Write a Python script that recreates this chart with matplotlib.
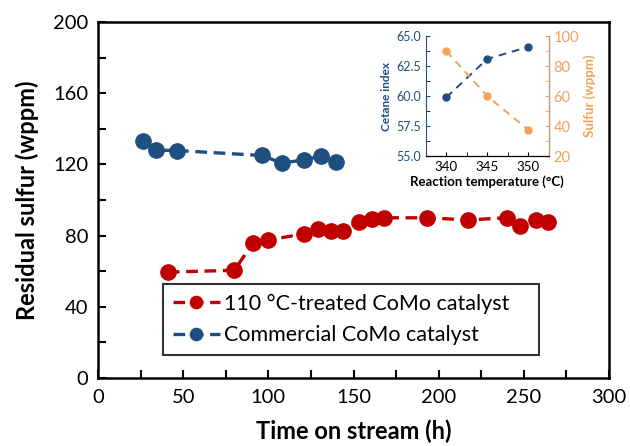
import matplotlib.pyplot as plt
from matplotlib.ticker import MultipleLocator

plt.rcParams['font.family'] = ['Lato', 'DejaVu Sans']

# time on stream (h) and residual sulfur (wppm)
t_treated = [41, 80, 91, 100, 121, 129, 137, 144, 153, 161, 168, 193, 217, 240, 248, 257, 264]
s_treated = [59.5, 60.5, 75.8, 77.5, 81, 83.7, 82.6, 82.6, 87.6, 89.3, 90, 90, 88.8, 90, 85.5, 88.8, 87.6]
t_comm = [26.5, 34, 46.5, 96, 108, 121, 131, 140]
s_comm = [133, 128, 127.8, 125, 120.8, 122.5, 124.7, 121.5]

# inset: reaction temperature effect
temp = [340, 345, 350]
cetane = [59.9, 63.1, 64.1]
sulfur_t = [90, 60, 37.5]

red = '#C00000'
blue = '#1F4E80'
orange = '#F5A15A'

fig = plt.figure(figsize=(6.3, 4.46), dpi=100)
ax = fig.add_axes([0.1556, 0.1525, 0.8111, 0.7982])

ax.plot(t_treated, s_treated, color=red, lw=2.4, ls=(0, (3.5, 2)), marker='o', ms=11,
        label='110 °C-treated CoMo catalyst')
ax.plot(t_comm, s_comm, color=blue, lw=2.4, ls=(0, (3.5, 2)), marker='o', ms=11,
        label='Commercial CoMo catalyst')

ax.set_xlim(0, 300)
ax.set_ylim(0, 200)
ax.xaxis.set_major_locator(MultipleLocator(50))
ax.xaxis.set_minor_locator(MultipleLocator(25))
ax.yaxis.set_major_locator(MultipleLocator(40))
ax.yaxis.set_minor_locator(MultipleLocator(20))
ax.tick_params(which='both', direction='in', width=1.5, length=6, labelsize=14.5)
ax.tick_params(axis='x', pad=8)
ax.tick_params(axis='y', pad=7)
for sp in ax.spines.values():
    sp.set_linewidth(1.8)
ax.set_xlabel('Time on stream (h)', fontsize=17, fontweight='bold', labelpad=10)
ax.set_ylabel('Residual sulfur (wppm)', fontsize=17, fontweight='bold', labelpad=10)

leg = ax.legend(loc='lower left', bbox_to_anchor=(0.106, 0.034, 0.779, 0.222), mode='expand',
                fontsize=15.5, frameon=True, fancybox=False, edgecolor='black',
                handlelength=2.2, handletextpad=0.2, borderpad=0.45, labelspacing=0.55,
                markerscale=0.8)
leg.get_frame().set_linewidth(1.5)

# inset
ins = fig.add_axes([0.676, 0.650, 0.195, 0.269])
ins.plot(temp, cetane, color=blue, lw=1.4, ls=(0, (4, 3)), marker='o', ms=5)
ins.set_xlim(337.5, 352.5)
ins.set_ylim(55, 65)
ins.set_xticks([340, 345, 350])
ins.xaxis.set_minor_locator(MultipleLocator(2.5))
ins.yaxis.set_major_locator(MultipleLocator(2.5))
ins.yaxis.set_minor_locator(MultipleLocator(1.25))
ins.yaxis.set_major_formatter('{x:.1f}')
ins.tick_params(which='both', direction='in', length=3, labelsize=9)
ins.tick_params(axis='x', labelsize=9.5)
ins.tick_params(axis='y', colors=blue)
ins.tick_params(axis='x', which='both', colors='black')
ins.spines['left'].set_color(blue)
ins.spines['top'].set_visible(False)
ins.set_xlabel('Reaction temperature (°C)', fontsize=9.5, fontweight='bold', labelpad=2)
ins.set_ylabel('Cetane index', fontsize=8.5, fontweight='bold', color=blue, labelpad=3)

ins2 = ins.twinx()
ins2.plot(temp, sulfur_t, color=orange, lw=1.4, ls=(0, (4, 3)), marker='o', ms=5)
ins2.set_ylim(20, 100)
ins2.yaxis.set_major_locator(MultipleLocator(20))
ins2.yaxis.set_minor_locator(MultipleLocator(10))
ins2.tick_params(which='both', direction='in', length=3, labelsize=10.5, colors=orange)
ins2.spines['right'].set_color('#C8996B')
ins2.spines['left'].set_visible(False)
ins2.spines['top'].set_visible(False)
ins2.set_ylabel('Sulfur (wppm)', fontsize=9.5, fontweight='bold', color=orange, labelpad=3)

fig.savefig('out.png', dpi=100)
